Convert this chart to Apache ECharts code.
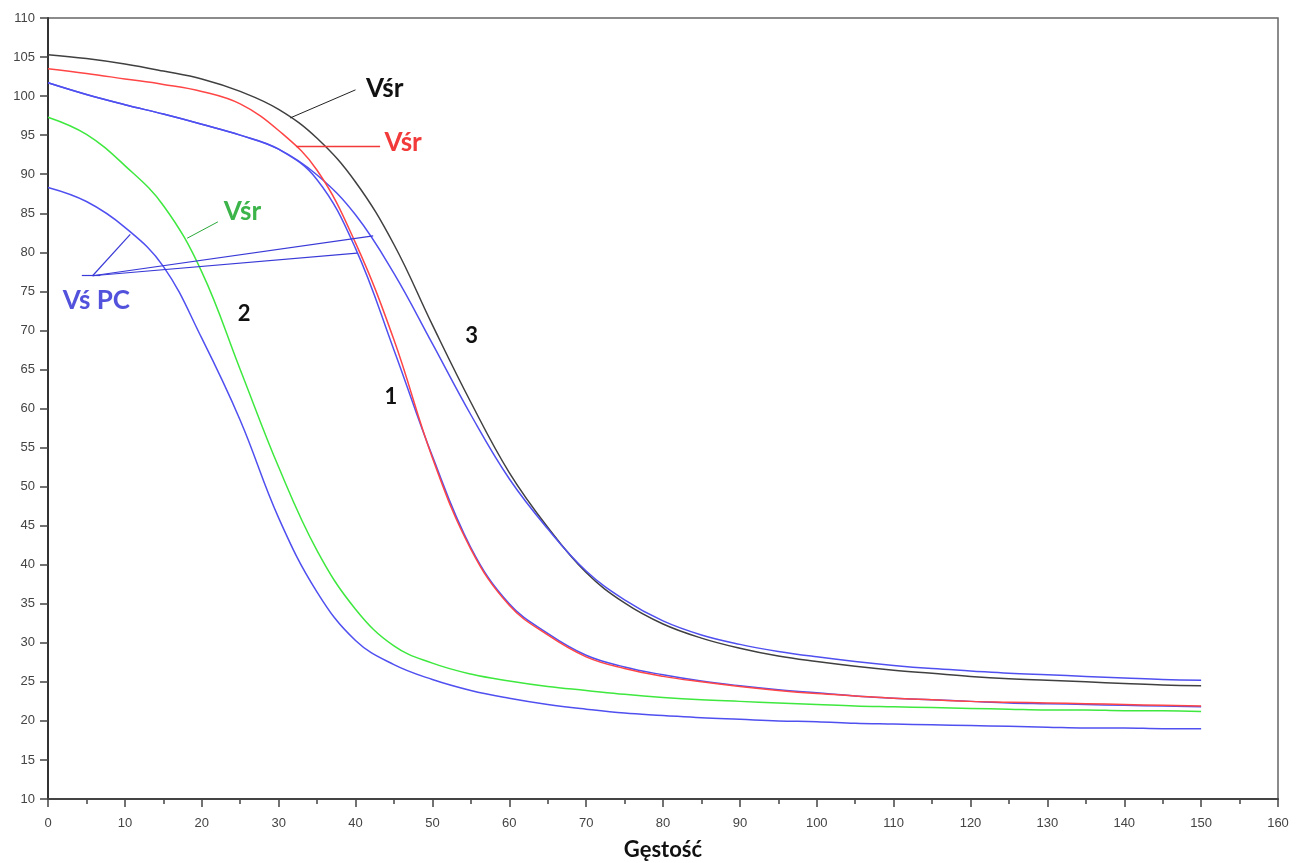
<!DOCTYPE html>
<html>
<head>
<meta charset="utf-8">
<script src="https://cdn.jsdelivr.net/npm/echarts@6/dist/echarts.min.js"></script>
<style>
html,body{margin:0;padding:0;background:#fff;}
#echart{width:1307px;height:863px;}
</style>
</head>
<body>
<div id="echart"></div>
<script>
// gestosc (x) co 5
var xs = [0,5,10,15,20,25,30,35,40,45,50,55,60,65,70,75,80,85,90,95,100,105,110,115,120,125,130,135,140,145,150];

// krzywa 3 - Vsr (czarna) i Vs PC (niebieska)
var vsr3 = [105.3,104.8,104.1,103.2,102.2,100.6,98.3,94.6,89.0,81.0,70.7,60.8,51.8,44.8,39.0,35.1,32.4,30.6,29.3,28.3,27.6,27.0,26.5,26.1,25.7,25.4,25.2,25.0,24.8,24.6,24.5];
var vpc3 = [101.7,100.2,98.9,97.7,96.4,95.0,93.2,89.9,84.8,77.3,68.3,59.2,51.0,44.6,39.2,35.5,32.8,31.0,29.8,28.9,28.2,27.6,27.1,26.7,26.4,26.1,25.9,25.7,25.5,25.3,25.2];
// krzywa 1 - Vsr (czerwona) i Vs PC (niebieska)
var vsr1 = [103.5,102.9,102.2,101.5,100.6,99.0,95.6,90.5,81.2,68.8,53.7,42.0,34.8,31.0,28.2,26.7,25.7,25.0,24.4,23.9,23.5,23.2,22.9,22.7,22.5,22.4,22.3,22.2,22.1,22.0,21.9];
var vpc1 = [101.7,100.2,98.9,97.7,96.4,95.0,93.2,89.3,80.5,67.5,53.9,42.2,35.0,31.2,28.4,26.9,25.9,25.1,24.5,24.0,23.6,23.2,22.9,22.7,22.5,22.3,22.2,22.1,22.0,21.9,21.8];
// krzywa 2 - Vsr (zielona) i Vs PC (niebieska)
var vsr2 = [97.3,95.1,91.1,86.0,77.5,65.0,52.5,41.8,34.3,29.6,27.4,26.0,25.1,24.4,23.9,23.4,23.0,22.7,22.5,22.3,22.1,21.9,21.8,21.7,21.6,21.5,21.4,21.4,21.3,21.3,21.2];
var vpc2 = [88.3,86.5,83.2,78.2,69.0,58.5,46.0,36.5,30.3,27.2,25.3,23.9,22.9,22.1,21.5,21.0,20.7,20.4,20.2,20.0,19.9,19.7,19.6,19.5,19.4,19.3,19.2,19.1,19.1,19.0,19.0];

// opisy na wykresie
var labelTexts = ['Vśr','Vśr','Vśr','Vś PC','1','2','3'];
var labelAt = [[43.8,100.9],[46.2,94.1],[25.3,85.2],[6.3,73.8],[44.6,61.5],[25.5,72.1],[55.1,69.3]];
var labelColors = ['#111111','#f23a3a','#3cb44a','#5252dc','#111111','#111111','#111111'];
var labelSizes = [26,26,26,26,22,22,22];

// linie odnosnikow
var leaders = [
	[[31.5,97.2],[40.0,100.8],'#222222',1],
	[[32.3,93.6],[43.2,93.6],'#f23a3a',1.3],
	[[18.1,81.8],[22.1,83.9],'#2aa83a',1],
	[[4.4,77.0],[6.8,77.0],'#3a3ad8',1.2],
	[[5.8,77.0],[10.7,82.3],'#3a3ad8',1.2],
	[[5.8,77.0],[42.3,82.1],'#3a3ad8',1.2],
	[[5.8,77.0],[40.2,79.9],'#3a3ad8',1.2]
];

function pairs(ys){
	var out = [];
	for (var i = 0; i < xs.length; i++) {
		out.push([xs[i], ys[i]]);
	}
	return out;
}

function curve(name, ys, color){
	return {
		name: name,
		type: 'line',
		data: pairs(ys),
		showSymbol: false,
		smooth: 0.4,
		lineStyle: {color: color, width: 1.5},
		itemStyle: {color: color},
		silent: true,
		z: 3
	};
}

var labelData = [];
for (var i = 0; i < labelTexts.length; i++) {
	labelData.push({
		value: labelAt[i],
		label: {
			show: true,
			position: 'inside',
			formatter: labelTexts[i],
			color: labelColors[i],
			fontSize: labelSizes[i],
			fontWeight: 'bold',
			fontFamily: 'Lato'
		}
	});
}

var leaderData = [];
for (var j = 0; j < leaders.length; j++) {
	leaderData.push({
		coords: [leaders[j][0], leaders[j][1]],
		lineStyle: {color: leaders[j][2], width: leaders[j][3], opacity: 1}
	});
}

var myChart = echarts.init(document.getElementById('echart'));
var option = {
	animation: false,
	backgroundColor: '#ffffff',
	grid: {
		left: 48, right: 29, top: 18, bottom: 64,
		containLabel: false, outerBoundsMode: 'none',
		show: true, borderColor: '#666666', borderWidth: 1.5
	},
	xAxis: {
		type: 'value', min: 0, max: 160, interval: 10,
		name: 'Gęstość', nameLocation: 'middle', nameGap: 40,
		nameTextStyle: {fontSize: 22, fontWeight: 'bold', color: '#111', fontFamily: 'Lato'},
		axisLine: {lineStyle: {color: '#444', width: 2}},
		axisTick: {show: true, length: 8, inside: false, lineStyle: {color: '#444', width: 1.5}},
		minorTick: {show: true, splitNumber: 2, length: 5, lineStyle: {color: '#444', width: 1.5}},
		axisLabel: {color: '#444', fontSize: 13, fontFamily: 'Liberation Sans', margin: 18},
		splitLine: {show: false}
	},
	yAxis: {
		type: 'value', min: 10, max: 110, interval: 5,
		axisLine: {show: true, lineStyle: {color: '#333', width: 2}},
		axisTick: {show: true, length: 8, lineStyle: {color: '#444', width: 1.5}},
		axisLabel: {color: '#444', fontSize: 13, fontFamily: 'Liberation Sans', margin: 13},
		splitLine: {show: false}
	},
	series: [
		curve('Vśr 3', vsr3, '#404040'),
		curve('Vś PC 3', vpc3, '#5050f0'),
		curve('Vś PC 1', vpc1, '#5050f0'),
		curve('Vśr 1', vsr1, '#ff4545'),
		curve('Vśr 2', vsr2, '#3ee83e'),
		curve('Vś PC 2', vpc2, '#5050f0'),
		{
			name: 'odnosniki',
			type: 'lines',
			coordinateSystem: 'cartesian2d',
			data: leaderData,
			silent: true,
			z: 4
		},
		{
			name: 'opisy',
			type: 'scatter',
			data: labelData,
			symbolSize: 0,
			itemStyle: {opacity: 1},
			silent: true,
			z: 5
		}
	]
};
myChart.setOption(option);
</script>
</body>
</html>
